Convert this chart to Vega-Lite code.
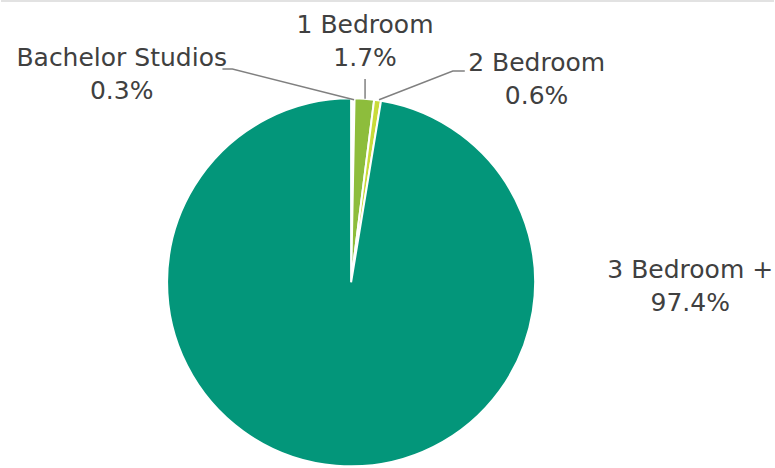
{
  "$schema": "https://vega.github.io/schema/vega-lite/v6.json",
  "width": 775,
  "height": 468,
  "autosize": {"type": "fit", "contains": "padding"},
  "padding": 0,
  "background": "white",
  "config": {"view": {"stroke": null}},
  "datasets": {
    "slices": [
      {"category": "Bachelor Studios", "share": 0.3, "order": 1},
      {"category": "1 Bedroom", "share": 1.7, "order": 2},
      {"category": "2 Bedroom", "share": 0.6, "order": 3},
      {"category": "3 Bedroom +", "share": 97.4, "order": 4}
    ],
    "labels": [
      {"category": "Bachelor Studios", "label": "Bachelor Studios\n0.3%", "lx": -230, "ly": 219},
      {"category": "1 Bedroom", "label": "1 Bedroom\n1.7%", "lx": 14, "ly": 253},
      {"category": "2 Bedroom", "label": "2 Bedroom\n0.6%", "lx": 186, "ly": 214},
      {"category": "3 Bedroom +", "label": "3 Bedroom +\n97.4%", "lx": 340, "ly": 4}
    ],
    "leaders": [
      {"category": "Bachelor Studios", "step": 1, "px": -129, "py": 216},
      {"category": "Bachelor Studios", "step": 2, "px": -119, "py": 216},
      {"category": "Bachelor Studios", "step": 3, "px": 3, "py": 185},
      {"category": "1 Bedroom", "step": 1, "px": 14, "py": 206},
      {"category": "1 Bedroom", "step": 2, "px": 14, "py": 186},
      {"category": "2 Bedroom", "step": 1, "px": 114, "py": 214},
      {"category": "2 Bedroom", "step": 2, "px": 102, "py": 214},
      {"category": "2 Bedroom", "step": 3, "px": 28, "py": 185}
    ],
    "border": [
      {"bx": -351, "bx2": 424, "by": 285}
    ]
  },
  "layer": [
    {
      "data": {"name": "border"},
      "mark": {"type": "rule", "color": "#d9d9d9", "strokeWidth": 1.5},
      "encoding": {
        "x": {"field": "bx", "type": "quantitative", "scale": {"domain": [-351, 424], "nice": false, "zero": false}, "axis": null},
        "x2": {"field": "bx2"},
        "y": {"field": "by", "type": "quantitative", "scale": {"domain": [-182, 286], "nice": false, "zero": false}, "axis": null}
      }
    },
    {
      "data": {"name": "slices"},
      "mark": {"type": "arc", "outerRadius": 184, "stroke": "white", "strokeWidth": 2},
      "encoding": {
        "x": {"datum": 0, "type": "quantitative"},
        "y": {"datum": 0, "type": "quantitative"},
        "theta": {"field": "share", "type": "quantitative", "stack": true},
        "order": {"field": "order", "type": "quantitative"},
        "color": {
          "field": "category",
          "type": "nominal",
          "legend": null,
          "scale": {
            "domain": ["Bachelor Studios", "1 Bedroom", "2 Bedroom", "3 Bedroom +"],
            "range": ["#ffffff", "#8dbd3c", "#c9db3a", "#03967a"]
          }
        }
      }
    },
    {
      "data": {"name": "leaders"},
      "mark": {"type": "line", "color": "#808080", "strokeWidth": 1.5},
      "encoding": {
        "x": {"field": "px", "type": "quantitative"},
        "y": {"field": "py", "type": "quantitative"},
        "detail": {"field": "category"},
        "order": {"field": "step", "type": "quantitative"}
      }
    },
    {
      "data": {"name": "labels"},
      "mark": {"type": "text", "font": "DejaVu Sans", "fontSize": 25, "color": "#404040", "lineBreak": "\n", "lineHeight": 33, "align": "center", "baseline": "alphabetic"},
      "encoding": {
        "x": {"field": "lx", "type": "quantitative"},
        "y": {"field": "ly", "type": "quantitative"},
        "text": {"field": "label"}
      }
    }
  ]
}
